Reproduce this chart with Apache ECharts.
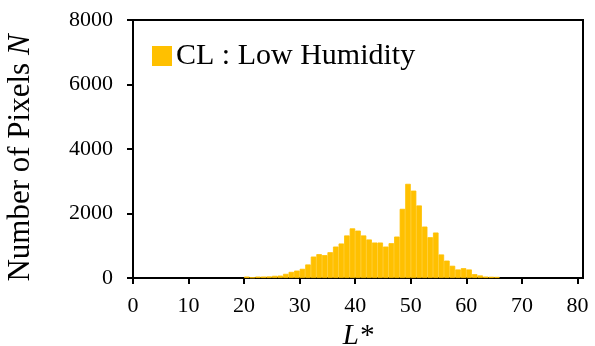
<!DOCTYPE html>
<html>
<head>
<meta charset="utf-8">
<script src="https://cdn.jsdelivr.net/npm/echarts@6/dist/echarts.min.js"></script>
<style>html,body{margin:0;padding:0;background:#fff}#c{width:595px;height:346px}</style>
</head>
<body>
<div id="c"></div>
<script>
// L* bins (each bin k covers [k, k+1])
var binStarts = [20,21,22,23,24,25,26,27,28,29,30,31,32,33,34,35,36,37,38,39,40,41,42,43,44,45,46,47,48,49,50,51,52,53,54,55,56,57,58,59,60,61,62,63,64,65];
var counts    = [45,20,45,45,50,68,75,130,190,230,285,420,665,740,710,800,975,1070,1320,1540,1470,1320,1195,1100,1100,975,1080,1285,2145,2920,2710,2250,1595,1265,1410,730,540,380,265,305,265,120,80,45,40,35];
var xTicks = [0,10,20,30,40,50,60,70,80];
var yTicks = [0,2000,4000,6000,8000];
var seriesName = 'CL : Low Humidity';

var xMax = 81;
var cats = [];
var vals = [];
for (var i = 0; i < xMax; i++) { cats.push(String(i)); vals.push('-'); }
for (var j = 0; j < binStarts.length; j++) { vals[binStarts[j]] = counts[j]; }

var font = 'Liberation Serif, Times New Roman, serif';
var chart = echarts.init(document.getElementById('c'), null, {renderer: 'canvas'});
chart.setOption({
  animation: false,
  backgroundColor: '#fff',
  textStyle: {fontFamily: font, color: '#000'},
  grid: {left: 133, right: 12, top: 20, bottom: 68, show: true, borderColor: '#000', borderWidth: 2, backgroundColor: 'transparent', outerBoundsMode: 'none', containLabel: false},
  legend: {
    show: true, left: 147, top: 36, itemWidth: 18, itemHeight: 18, itemGap: 5,
    icon: 'rect',
    textStyle: {fontFamily: font, fontSize: 30, color: '#000'},
    data: [seriesName]
  },
  xAxis: [{
    type: 'value', min: 0, max: xMax,
    position: 'bottom',
    axisLine: {show: true, lineStyle: {color: '#000', width: 2}},
    axisTick: {show: true, inside: false, length: 6, lineStyle: {color: '#000', width: 2}, customValues: xTicks},
    axisLabel: {show: true, margin: 17, fontFamily: font, fontSize: 22, color: '#000', customValues: xTicks, formatter: function (v) { return String(v); }},
    splitLine: {show: false},
    name: '{i|L}{r|*}',
    nameLocation: 'middle', nameGap: 44,
    nameTextStyle: {rich: {i: {fontFamily: font, fontSize: 29, fontStyle: 'italic', color: '#000'}, r: {fontFamily: font, fontSize: 29, fontStyle: 'italic', color: '#000'}}}
  }, {
    type: 'category', data: cats, show: false, boundaryGap: true
  }],
  yAxis: {
    type: 'value', min: 0, max: 8000, interval: 2000,
    axisLine: {show: true, lineStyle: {color: '#000', width: 2}},
    axisTick: {show: true, inside: false, length: 6, lineStyle: {color: '#000', width: 2}},
    axisLabel: {margin: 20, fontFamily: font, fontSize: 22, color: '#000', formatter: function (v) { return String(v); }},
    splitLine: {show: false},
    name: '{r|Number of Pixels }{i|N}',
    nameLocation: 'middle', nameGap: 97, nameRotate: 90,
    nameTextStyle: {padding: [0, 18, 0, 0], rich: {i: {fontFamily: font, fontSize: 31, fontStyle: 'italic', color: '#000'}, r: {fontFamily: font, fontSize: 31, color: '#000'}}}
  },
  series: [{
    name: seriesName,
    type: 'bar',
    xAxisIndex: 1,
    data: vals,
    barWidth: '100%',
    barCategoryGap: '0%',
    itemStyle: {color: '#FFC000', borderColor: '#FFC000', borderWidth: 0.8}
  }]
});
</script>
</body>
</html>
